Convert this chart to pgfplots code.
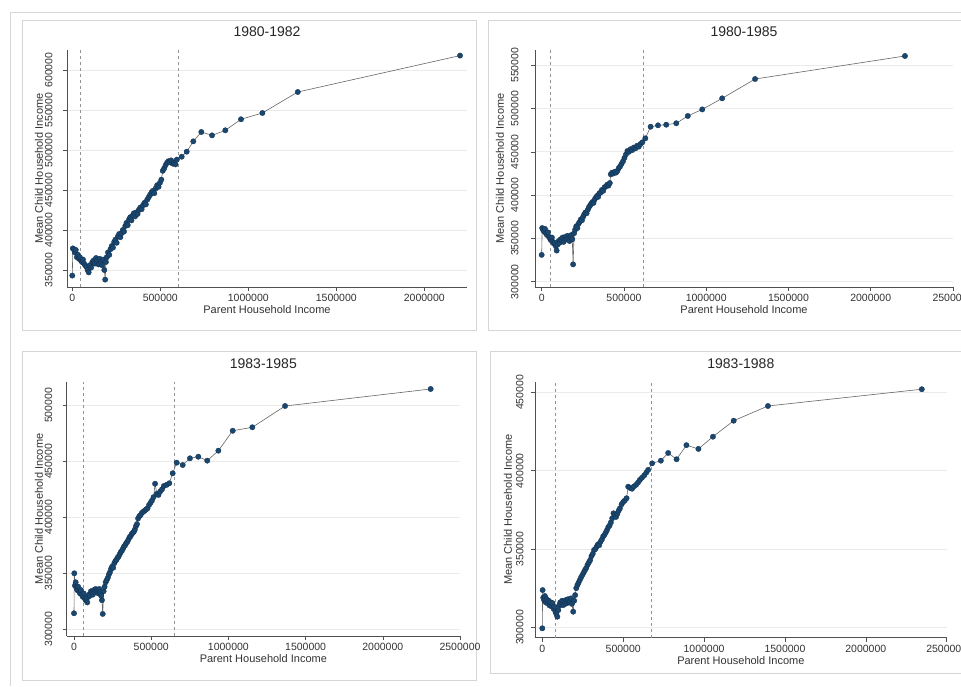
\documentclass[border=0pt]{standalone}
\usepackage{fontspec}
\setmainfont{Liberation Sans}
\usepackage{pgfplots}
\pgfplotsset{compat=1.18}
\definecolor{navyc}{HTML}{1A476F}
\definecolor{navyd}{HTML}{12304E}
\definecolor{gridc}{HTML}{EBEBEB}
\definecolor{axc}{HTML}{505050}
\definecolor{framec}{HTML}{D6D6D6}
\pgfplotsset{
 stata/.style={
  scale only axis,
  anchor=south west,
  axis x line*=bottom, axis y line*=left,
  axis line style={draw=axc, line width=0.5pt, -},
  tick align=outside, major tick length=4pt,
  tick style={draw=axc, line width=0.5pt},
  ymajorgrids, major grid style={draw=gridc, line width=0.7pt},
  scaled ticks=false,
  /pgf/number format/fixed, /pgf/number format/1000 sep={},
  /pgf/number format/assume math mode=true,
  tick label style={font=\fontsize{10.5}{12}\selectfont, text=black!80},
  yticklabel style={rotate=90, anchor=south},
  xtick={0,500000,1000000,1500000,2000000,2500000},
  xlabel={Parent Household Income},
  ylabel={Mean Child Household Income},
  label style={font=\fontsize{11}{13}\selectfont, text=black!80},
  xlabel style={at={(axis description cs:0.5,0)}, anchor=center, yshift=-23pt},
  title style={font=\fontsize{14}{16}\selectfont, text=black!85, at={(axis description cs:0.5,1)}, anchor=center, yshift=12pt},
  clip=false,
 },
 dline/.style={draw=gray!85, dashed, line width=0.6pt, forget plot},
 dat/.style={draw=black!60, line width=0.6pt, mark=*, mark size=2.7pt, mark options={fill=navyc, draw=navyd, line width=0.3pt, solid}},
}
\begin{document}
\begin{tikzpicture}
\useasboundingbox (0pt,0pt) rectangle (961pt,-686pt);
\fill[white] (0pt,0pt) rectangle (961pt,-686pt);
\draw[framec, line width=0.8pt] (10pt,-686pt) -- (10pt,-12pt) -- (961pt,-12pt);
\draw[framec, line width=0.8pt] (22pt,-20pt) rectangle (476pt,-330pt);
\draw[framec, line width=0.8pt] (488pt,-20pt) rectangle (975pt,-330pt);
\draw[framec, line width=0.8pt] (22pt,-351.7pt) rectangle (476pt,-680pt);
\draw[framec, line width=0.8pt] (490pt,-351.7pt) rectangle (975pt,-673pt);

% ---------- Panel 1: 1980-1982
\begin{axis}[stata, at={(67pt,-287pt)}, width=400pt, height=237pt,
  xmin=-30100, xmax=2242600, ymin=328750, ymax=625000,
  ytick={350000,400000,450000,500000,550000,600000},
  yticklabel shift=7pt,
  ylabel style={at={([xshift=-28pt]axis description cs:0,0.5)}, anchor=center},
  title={1980-1982}]
\addplot[dline] coordinates {(43800,328750) (43800,625000)};
\addplot[dline] coordinates {(602000,328750) (602000,625000)};
\addplot[dat] coordinates {
(0,343000) (3000,377000) (8000,376000) (14000,372000) (20000,375000) (26000,366000)
(32000,369000) (38000,364000) (43000,366000) (49000,362000) (55000,360000) (61000,363000)
(67000,358000) (73000,356000) (80000,354000) (87000,350000) (93000,347000) (100000,356000)
(107000,353000) (114000,360000) (121000,362000) (128000,358000) (135000,365000) (142000,362000)
(149000,357000) (156000,364000) (163000,360000) (170000,356000) (176000,363000) (182000,350000)
(187000,338000) (191000,360000)
(196000,366000) (203000,372000) (210000,369000) (217000,376000) (224000,380000) (231000,378000)
(238000,385000) (245000,388000) (252000,384000) (259000,392000) (266000,395000) (273000,391000)
(280000,396000) (287000,400000) (294000,398000) (301000,405000) (308000,409000) (315000,406000)
(322000,413000) (329000,416000) (336000,412000) (343000,418000) (350000,421000) (357000,417000)
(364000,422000) (371000,420000) (378000,425000) (386000,428000) (394000,426000) (402000,431000)
(410000,434000) (418000,432000) (426000,438000) (434000,441000) (442000,444000) (450000,447000)
(458000,449000) (466000,446000) (474000,452000) (482000,456000) (490000,454000) (498000,459000)
(506000,463000) (514000,474000) (522000,477000) (530000,481000) (538000,484000) (546000,486000)
(554000,485000) (562000,487000) (570000,483000) (578000,484000) (586000,482000) (594000,488000)
(621600,491600) (650000,497900) (687500,510800) (733000,522500) (794000,518300) (869500,524600)
(958500,538400) (1080000,546250) (1281000,572500) (2203000,618000)
};
\end{axis}

% ---------- Panel 2: 1980-1985
\begin{axis}[stata, at={(535pt,-287pt)}, width=418pt, height=237pt,
  xmin=-40600, xmax=2500000, ymin=293900, ymax=567600,
  ytick={300000,350000,400000,450000,500000,550000},
  yticklabel shift=9pt,
  ylabel style={at={([xshift=-35pt]axis description cs:0,0.5)}, anchor=center},
  title={1980-1985}]
\addplot[dline] coordinates {(50300,293900) (50300,567600)};
\addplot[dline] coordinates {(615700,293900) (615700,567600)};
\addplot[dat] coordinates {
(0,331000) (3000,362000) (8000,360000) (14000,358000) (20000,361000) (26000,356000)
(32000,354000) (38000,357000) (44000,352000) (50000,350000) (56000,348000) (62000,351000)
(68000,346000) (74000,344000) (80000,345000) (86000,341000) (91000,336000) (97000,343000)
(103000,347000) (109000,345000) (115000,349000) (121000,348000) (127000,351000) (133000,346000)
(139000,350000) (145000,352000) (151000,349000) (157000,353000) (163000,350000) (169000,347000)
(175000,352000) (181000,354000) (186000,349000) (191000,320000) (197000,356000)
(203000,360000) (210000,364000) (217000,362000) (224000,367000) (231000,369000) (238000,372000)
(245000,371000) (252000,375000) (259000,378000) (266000,380000) (273000,379000) (280000,383000)
(287000,386000) (294000,388000) (301000,390000) (308000,392000) (315000,391000) (322000,395000)
(329000,397000) (336000,399000) (343000,398000) (350000,402000) (358000,403000) (366000,406000)
(374000,405000) (382000,409000) (390000,410000) (398000,412000) (406000,411000) (414000,414000)
(420000,424000) (428000,426000) (436000,425000) (444000,427000) (452000,426000) (460000,428000)
(468000,431000) (476000,433000) (485000,436000) (494000,439000) (503000,443000) (512000,447000)
(521000,451000) (530000,450000) (540000,453000) (550000,452000) (560000,455000) (570000,454000)
(580000,457000) (590000,456000) (600000,459000) (612000,461000)
(630000,465600) (662000,479000) (707000,480600) (757000,481300) (818000,483000) (888000,491400)
(976000,499000) (1097000,511800) (1297000,534100) (2208000,560700)
};
\end{axis}

% ---------- Panel 3: 1983-1985
\begin{axis}[stata, at={(66.7pt,-636pt)}, width=393.3pt, height=254.3pt,
  xmin=-47300, xmax=2500000, ymin=294000, ymax=521100,
  ytick={300000,350000,400000,450000,500000},
  yticklabel shift=7pt,
  ylabel style={at={([xshift=-27.7pt]axis description cs:0,0.5)}, anchor=center},
  title={1983-1985}]
\addplot[dline] coordinates {(60200,294000) (60200,521100)};
\addplot[dline] coordinates {(647700,294000) (647700,521100)};
\addplot[dat] coordinates {
(0,314300) (2000,350000) (6000,339000) (11000,342000) (16000,337000) (21000,335000)
(27000,338000) (33000,334000) (39000,332000) (45000,335000) (51000,331000) (57000,329000)
(63000,332000) (69000,328000) (75000,326000) (81000,327000) (86000,324000) (92000,329000)
(98000,331000) (104000,330000) (110000,334000) (116000,333000) (122000,331000) (128000,335000)
(134000,333000) (140000,336000) (146000,334000) (152000,335000) (158000,332000) (164000,336000)
(170000,333000) (176000,330000) (181000,326000) (186000,313700) (192000,334000) (198000,338000)
(205000,342000) (212000,344000) (219000,346000) (226000,349000) (233000,351000) (240000,354000)
(247000,356000) (254000,355000) (261000,359000) (268000,361000) (275000,362000) (282000,364000)
(289000,365000) (296000,367000) (303000,369000) (310000,370000) (317000,372000) (324000,374000)
(331000,375000) (338000,377000) (345000,378000) (352000,380000) (359000,382000) (366000,383000)
(373000,385000) (380000,386000) (387000,387000) (394000,389000) (401000,392000) (408000,394000)
(415000,399000) (423000,401000) (431000,402000) (440000,404000) (449000,405000) (458000,406000)
(467000,407000) (476000,408000) (486000,411000) (496000,413000) (505000,415000) (515000,418000)
(525000,430000) (536000,421000) (547000,420000) (558000,423000) (570000,425000) (582000,428000)
(600000,429000) (617000,430400) (639000,439300)
(665000,448800) (704000,446700) (751000,452700) (805000,454100) (863000,450600) (935000,459500)
(1028000,477300) (1155000,480400) (1367000,499400) (2310000,514600)
};
\end{axis}

% ---------- Panel 4: 1983-1988
\begin{axis}[stata, at={(535pt,-637.7pt)}, width=411.7pt, height=256pt,
  xmin=-45100, xmax=2500000, ymin=293400, ymax=456800,
  ytick={300000,350000,400000,450000},
  yticklabel shift=4pt,
  ylabel style={at={([xshift=-27pt]axis description cs:0,0.5)}, anchor=center},
  title={1983-1988}]
\addplot[dline] coordinates {(78400,293400) (78400,456800)};
\addplot[dline] coordinates {(675300,293400) (675300,456800)};
\addplot[dat] coordinates {
(0,299400) (2000,323800) (6000,319000) (11000,317400) (16000,320000) (21000,316000)
(27000,318000) (33000,315300) (39000,317000) (45000,314000) (51000,316000) (57000,313500)
(63000,315500) (69000,312000) (75000,313200) (81000,310000) (87000,308500) (93000,306800)
(99000,311000) (105000,314000) (111000,316000) (117000,314500) (123000,317000) (129000,314200)
(135000,316500) (141000,315000) (147000,317500) (153000,315500) (159000,318000) (165000,316000)
(171000,316300) (177000,318500) (183000,315000) (191000,310000) (197000,317000) (203000,320600)
(210000,325000) (217000,327000) (224000,328500) (232000,330200) (240000,332000) (248000,333500)
(256000,335000) (264000,336600) (272000,338000) (280000,340000) (288000,341500) (296000,343000)
(304000,345500) (312000,347000) (320000,349400) (328000,350000) (336000,351500) (344000,353000)
(352000,352500) (360000,354700) (368000,356000) (376000,358000) (384000,359000) (392000,360500)
(400000,362100) (408000,364000) (416000,365000) (424000,367000) (432000,369600) (440000,372800)
(448000,371500) (456000,370500) (464000,372500) (472000,374500) (480000,376000) (490000,378500)
(500000,380000) (510000,381000) (521000,382400) (531000,389800) (543000,389000) (555000,388500)
(567000,390000) (580000,391000) (592000,392500) (603000,394100) (616000,395500) (630000,397000)
(643000,398800) (654000,400500)
(679000,404700) (733000,406400) (778000,411300) (830000,407300) (891000,416300) (965000,413900)
(1055000,421700) (1183000,431900) (1395000,441300) (2346000,452000)
};
\end{axis}
\end{tikzpicture}
\end{document}
